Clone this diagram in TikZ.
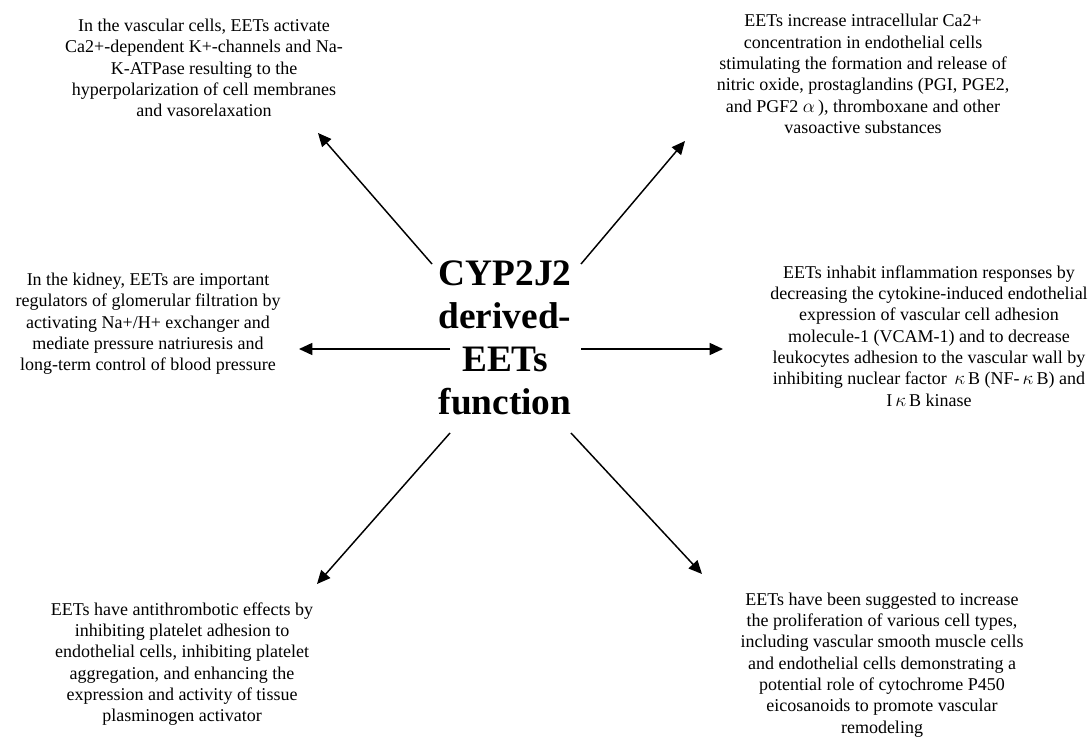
\documentclass[tikz,border=0pt]{standalone}
\usepackage{fontspec}
\setmainfont{Liberation Serif}
\usetikzlibrary{arrows.meta}
\tikzset{
  desc/.style={align=center, font=\fontsize{13.5}{16}\selectfont, inner sep=0pt},
  hub/.style={align=center, font=\fontsize{28}{32.3}\selectfont\bfseries, inner sep=0pt},
  arr/.style={line width=1.1pt, -{Triangle[length=10pt,width=9pt]}}
}
\begin{document}
\begin{tikzpicture}[x=0.75pt,y=-0.75pt]
\useasboundingbox (0,0) rectangle (1090,738);
\node[hub] (c) at (505,338) {CYP2J2\\derived-\\EETs\\function};
\node[desc] (tl) at (204,68) {In the vascular cells, EETs activate\\Ca2+-dependent K+-channels and Na-\\K-ATPase resulting to the\\hyperpolarization of cell membranes\\and vasorelaxation};
\node[desc] (tr) at (863,74) {EETs increase intracellular Ca2+\\concentration in endothelial cells\\stimulating the formation and release of\\nitric oxide, prostaglandins (PGI, PGE2,\\and PGF2 $\alpha$\,), thromboxane and other\\vasoactive substances};
\node[desc] (l) at (148,324) {In the kidney, EETs are important\\regulators of glomerular filtration by\\activating Na+/H+ exchanger and\\mediate pressure natriuresis and\\long-term control of blood pressure};
\node[desc] (r) at (929,336) {EETs inhabit inflammation responses by\\decreasing the cytokine-induced endothelial\\expression of vascular cell adhesion\\molecule-1 (VCAM-1) and to decrease\\leukocytes adhesion to the vascular wall by\\inhibiting nuclear factor \,$\kappa$\,B (NF-\,$\kappa$\,B) and\\I\,$\kappa$\,B kinase};
\node[desc] (bl) at (182,664) {EETs have antithrombotic effects by\\inhibiting platelet adhesion to\\endothelial cells, inhibiting platelet\\aggregation, and enhancing the\\expression and activity of tissue\\plasminogen activator};
\node[desc] (br) at (882,665) {EETs have been suggested to increase\\the proliferation of various cell types,\\including vascular smooth muscle cells\\and endothelial cells demonstrating a\\potential role of cytochrome P450\\eicosanoids to promote vascular\\remodeling};
\coordinate (sUL) at (432,264); \coordinate (tUL) at (318,133);
\coordinate (sUR) at (581,264); \coordinate (tUR) at (685,141);
\coordinate (sL) at (450,349);  \coordinate (tL) at (299,349);
\coordinate (sR) at (581,349);  \coordinate (tR) at (723,349);
\coordinate (sDL) at (450,433); \coordinate (tDL) at (317,584);
\coordinate (sDR) at (571,433); \coordinate (tDR) at (702,574);
\draw[arr] (sUL) -- (tUL);
\draw[arr] (sUR) -- (tUR);
\draw[arr] (sL) -- (tL);
\draw[arr] (sR) -- (tR);
\draw[arr] (sDL) -- (tDL);
\draw[arr] (sDR) -- (tDR);
\end{tikzpicture}
\end{document}
